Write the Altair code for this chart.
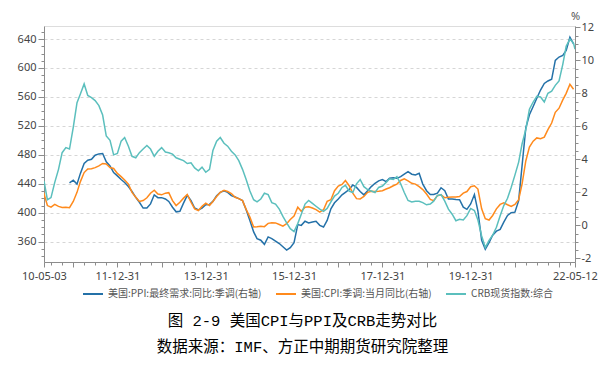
import altair as alt
import pandas as pd

# ---------------- data ----------------
series_names = ["美国:PPI:最终需求:同比:季调(右轴)", "美国:CPI:季调:当月同比(右轴)", "CRB现货指数:综合"]
series_colors = ["#2471a8", "#ff8a1c", "#5bbfbd"]

# CRB spot index (left axis): 2010-05-03, month ends 2010-05 .. 2022-04, 2022-05-12
crb_values = [
    444, 418, 421, 442, 460, 483, 490, 488, 518, 552, 564, 578,
    562, 559, 555, 548, 535, 506, 500, 480, 482, 499, 504, 492,
    478, 476, 483, 488, 493, 488, 478, 485, 490, 484, 483, 481,
    476, 474, 472, 468, 469, 462, 458, 463, 456, 460, 486, 499,
    504, 496, 492, 485, 480, 472, 460, 446, 430, 418, 415, 419,
    427, 425, 414, 412, 405, 395, 386, 378, 374, 385, 398, 412,
    417, 413, 409, 405, 402, 406, 415, 423, 427, 435, 438, 430,
    428, 440, 446, 436, 432, 430, 428, 435, 437, 442, 447, 446,
    450, 440, 428, 417, 415, 416, 416, 414, 411, 412, 416, 424,
    425, 416, 405, 398, 389, 391, 390, 396, 406, 403, 390, 368,
    352, 362, 369, 380, 396, 410, 420, 435, 452, 470, 495, 515,
    543, 553, 561, 560, 553, 565, 568, 576, 582, 605, 630, 640,
    634, 626,
]
crb_first_date = "2010-05-03"
crb_last_date = "2022-05-12"

# US PPI final demand yoy, SA (right axis), month ends from 2010-11
ppi_values = [
    2.58, 2.74, 2.5, 3.15, 3.75, 3.95, 4.0, 4.25, 4.33, 4.35, 3.85, 3.6,
    3.2, 3.0, 2.78, 2.6, 2.35, 2.05, 1.7, 1.4, 1.05, 1.05, 1.3, 1.85,
    1.68, 1.68, 1.6, 1.45, 1.1, 0.82, 0.85, 1.35, 1.82, 1.5, 1.05, 0.93,
    1.05, 1.25, 1.27, 1.45, 1.8, 2.0, 2.1, 2.0, 1.8, 1.72, 1.62, 1.5,
    0.95, 0.3, -0.4, -0.8, -0.9, -1.15, -0.7, -0.8, -0.95, -1.1, -1.3, -1.5,
    -1.35, -1.05, 0.05, 0.0, 0.25, 0.15, 0.2, 0.25, 0.0, -0.1, 0.3, 1.0,
    1.37, 1.6, 1.85, 2.0, 2.17, 2.45, 2.3, 2.05, 1.85, 2.1, 2.35, 2.55,
    2.7, 2.78, 2.65, 2.85, 2.88, 2.85, 2.95, 3.1, 3.25, 3.1, 3.05, 3.15,
    2.5, 2.1, 1.87, 1.87, 1.95, 2.28, 2.1, 1.6, 1.6, 1.57, 1.55, 1.1,
    0.97, 1.3, 1.87, 0.87, -0.9, -1.45, -1.05, -0.6, -0.35, -0.24, 0.2, 0.6,
    0.77, 0.8, 1.5, 3.6, 5.9, 6.7, 7.2, 7.7, 8.2, 8.6, 8.75, 8.85,
    10.0, 10.2, 10.3, 10.6, 11.4, 11.0,
]
ppi_first_month_index = 7

# US CPI yoy, SA (right axis), month ends from 2010-04
cpi_values = [
    2.0, 1.2, 1.1, 1.27, 1.15, 1.08, 1.1, 1.07, 1.45, 2.0, 2.65, 3.2,
    3.42, 3.43, 3.5, 3.6, 3.75, 3.72, 3.5, 3.45, 3.15, 2.95, 2.75, 2.5,
    2.0, 1.7, 1.45, 1.5, 1.67, 1.95, 2.13, 1.9, 1.85, 1.95, 1.98, 1.5,
    1.2, 1.4, 1.65, 1.87, 1.4, 1.0, 0.9, 1.15, 1.35, 1.2, 1.45, 1.75,
    2.0, 2.13, 2.05, 1.93, 1.7, 1.62, 1.5, 0.97, 0.5, -0.1, -0.08, -0.05,
    -0.08, 0.12, 0.16, 0.15, 0.05, -0.05, 0.1, 0.36, 0.57, 1.1, 0.85, 1.1,
    1.13, 1.05, 0.95, 0.8, 0.95, 1.45, 1.55, 2.1, 2.38, 2.48, 2.72, 2.4,
    1.95, 1.62, 1.6, 1.75, 2.0, 2.07, 2.05, 2.07, 2.1, 2.2, 2.28, 2.4,
    2.5, 2.72, 2.82, 2.7, 2.55, 2.5, 2.35, 2.17, 1.9, 1.57, 1.5, 1.8,
    1.85, 1.67, 1.7, 1.72, 1.72, 1.75, 1.95, 2.05, 2.34, 2.4, 2.2, 1.0,
    0.4, 0.32, 0.6, 1.0, 1.27, 1.37, 1.25, 1.15, 1.27, 1.55, 2.5, 3.9,
    4.75, 5.1, 5.3, 5.25, 5.35, 5.8, 6.2, 6.85, 7.1, 7.6, 8.0, 8.55,
    8.25,
]

x_label_dates = ["2010-05-03", "2011-12-31", "2013-12-31", "2015-12-31",
                 "2017-12-31", "2019-12-31", "2022-05-12"]
left_major = [360, 400, 440, 480, 520, 560, 600, 640]
right_major = [-2, 0, 2, 4, 6, 8, 10, 12]

# ---------------- tables ----------------
month_ends = [d.strftime("%Y-%m-%d") for d in
              pd.date_range("2010-04-30", "2022-04-30", freq=pd.offsets.MonthEnd())]

crb_dates = [crb_first_date] + month_ends[1:len(crb_values) - 1] + [crb_last_date]
crb_df = pd.DataFrame({"date": crb_dates, "value": crb_values, "series": series_names[2]})

ppi_dates = month_ends[ppi_first_month_index:ppi_first_month_index + len(ppi_values)]
ppi_df = pd.DataFrame({"date": ppi_dates, "value": ppi_values[:len(ppi_dates)], "series": series_names[0]})
cpi_dates = month_ends[:len(cpi_values)]
cpi_df = pd.DataFrame({"date": cpi_dates, "value": cpi_values[:len(cpi_dates)], "series": series_names[1]})
right_df = pd.concat([ppi_df, cpi_df], ignore_index=True)


def ms(s):
    return int(pd.Timestamp(s).value // 10**6)


label_ms = [ms(d) for d in x_label_dates]
quarters = pd.date_range("2010-07-01", "2022-04-01", freq=pd.offsets.QuarterBegin(startingMonth=1))
tick_ms = [ms(q) for q in quarters if min(abs(ms(q) - l) for l in label_ms) > 3 * 86400000]
x_tick_values = sorted(set(tick_ms + label_ms))

label_ms_list = ",".join(str(v) for v in label_ms)
long_test = ("utcmonth(datum.value) == 0 || (utcmonth(datum.value) == 11 && utcdate(datum.value) == 31)"
             f" || indexof([{label_ms_list}], time(datum.value)) >= 0")

axis_color = "#8c8c8c"
label_font = "Noto Sans"

x_axis = alt.Axis(
    values=x_tick_values,
    labelExpr=f"indexof([{label_ms_list}], time(datum.value)) >= 0 ? utcFormat(datum.value, '%y-%m-%d') : ''",
    tickSize={"condition": {"test": long_test, "value": 5}, "value": 3},
    grid=False, labelFlush=False, labelOverlap=False,
    domainColor=axis_color, tickColor=axis_color,
    labelColor="#444", labelFont=label_font, labelFontSize=11, labelPadding=3,
)
x_scale = alt.Scale(type="utc", domain=[label_ms[0], label_ms[-1]], nice=False)

left_vals = list(range(340, 660, 10))
left_test = "indexof([" + ",".join(str(v) for v in left_major) + "], datum.value) >= 0"
left_axis = alt.Axis(
    orient="left", values=left_vals,
    labelExpr=f"{left_test} ? toString(datum.value) : ''",
    tickSize={"condition": {"test": left_test, "value": 6}, "value": 3},
    grid=True, gridDash=[3, 3], gridColor="#d6d6d6",
    gridOpacity={"condition": {"test": left_test, "value": 1}, "value": 0},
    labelOverlap=False, domainColor=axis_color, tickColor=axis_color,
    labelColor="#444", labelFont=label_font, labelFontSize=11, labelPadding=2,
)

right_vals = [-2 + 0.5 * i for i in range(29)]
right_test = "indexof([" + ",".join(str(v) for v in right_major) + "], datum.value) >= 0"
right_axis = alt.Axis(
    orient="right", values=right_vals,
    labelExpr=f"{right_test} ? toString(datum.value) : ''",
    tickSize={"condition": {"test": right_test, "value": 5}, "value": 3},
    grid=False, labelOverlap=False, domainColor=axis_color, tickColor=axis_color,
    labelColor="#444", labelFont=label_font, labelFontSize=11, labelPadding=1,
    title="%", titleAngle=0, titleX=0, titleY=-10, titleAlign="center", titleBaseline="middle",
    titleFont=label_font, titleFontSize=11, titleFontWeight="normal", titleColor="#555",
)

legend = alt.Legend(
    orient="none", legendX=38, legendY=257, direction="horizontal", title=None,
    symbolType="stroke", symbolSize=400, symbolStrokeWidth=2,
    labelFont="Noto Sans CJK SC", labelFontSize=10, labelColor="#555",
    labelOffset=4, columnPadding=10,
)
color = alt.Color("series:N", scale=alt.Scale(domain=series_names, range=series_colors), legend=legend)

right_layer = alt.Chart(right_df).mark_line(strokeWidth=1.5, clip=True).encode(
    x=alt.X("date:T", scale=x_scale, axis=x_axis, title=None),
    y=alt.Y("value:Q", scale=alt.Scale(domain=[-2.22, 12.08], nice=False, zero=False), axis=right_axis),
    color=color,
)
left_layer = alt.Chart(crb_df).mark_line(strokeWidth=1.5, clip=True).encode(
    x=alt.X("date:T", scale=x_scale, axis=x_axis, title=None),
    y=alt.Y("value:Q", scale=alt.Scale(domain=[332, 658], nice=False, zero=False), axis=left_axis, title=None),
    color=color,
)

chart = alt.layer(right_layer, left_layer).resolve_scale(y="independent").properties(
    width=531, height=236,
    autosize=alt.AutoSizeParams(type="none"),
    padding={"left": 36, "top": 18, "right": 26, "bottom": 100},
    title=alt.TitleParams(
        text=["图 2-9 美国CPI与PPI及CRB走势对比", "数据来源：IMF、方正中期期货研究院整理"],
        orient="bottom", anchor="middle", dx=-7, offset=15,
        font="Liberation Mono, Noto Sans CJK SC", fontSize=15.5, fontWeight="normal",
        color="#000", lineHeight=26,
    ),
).configure_view(stroke=None).configure(background="white")

chart.save("out.html", embed_options={"renderer": "svg", "actions": False})
